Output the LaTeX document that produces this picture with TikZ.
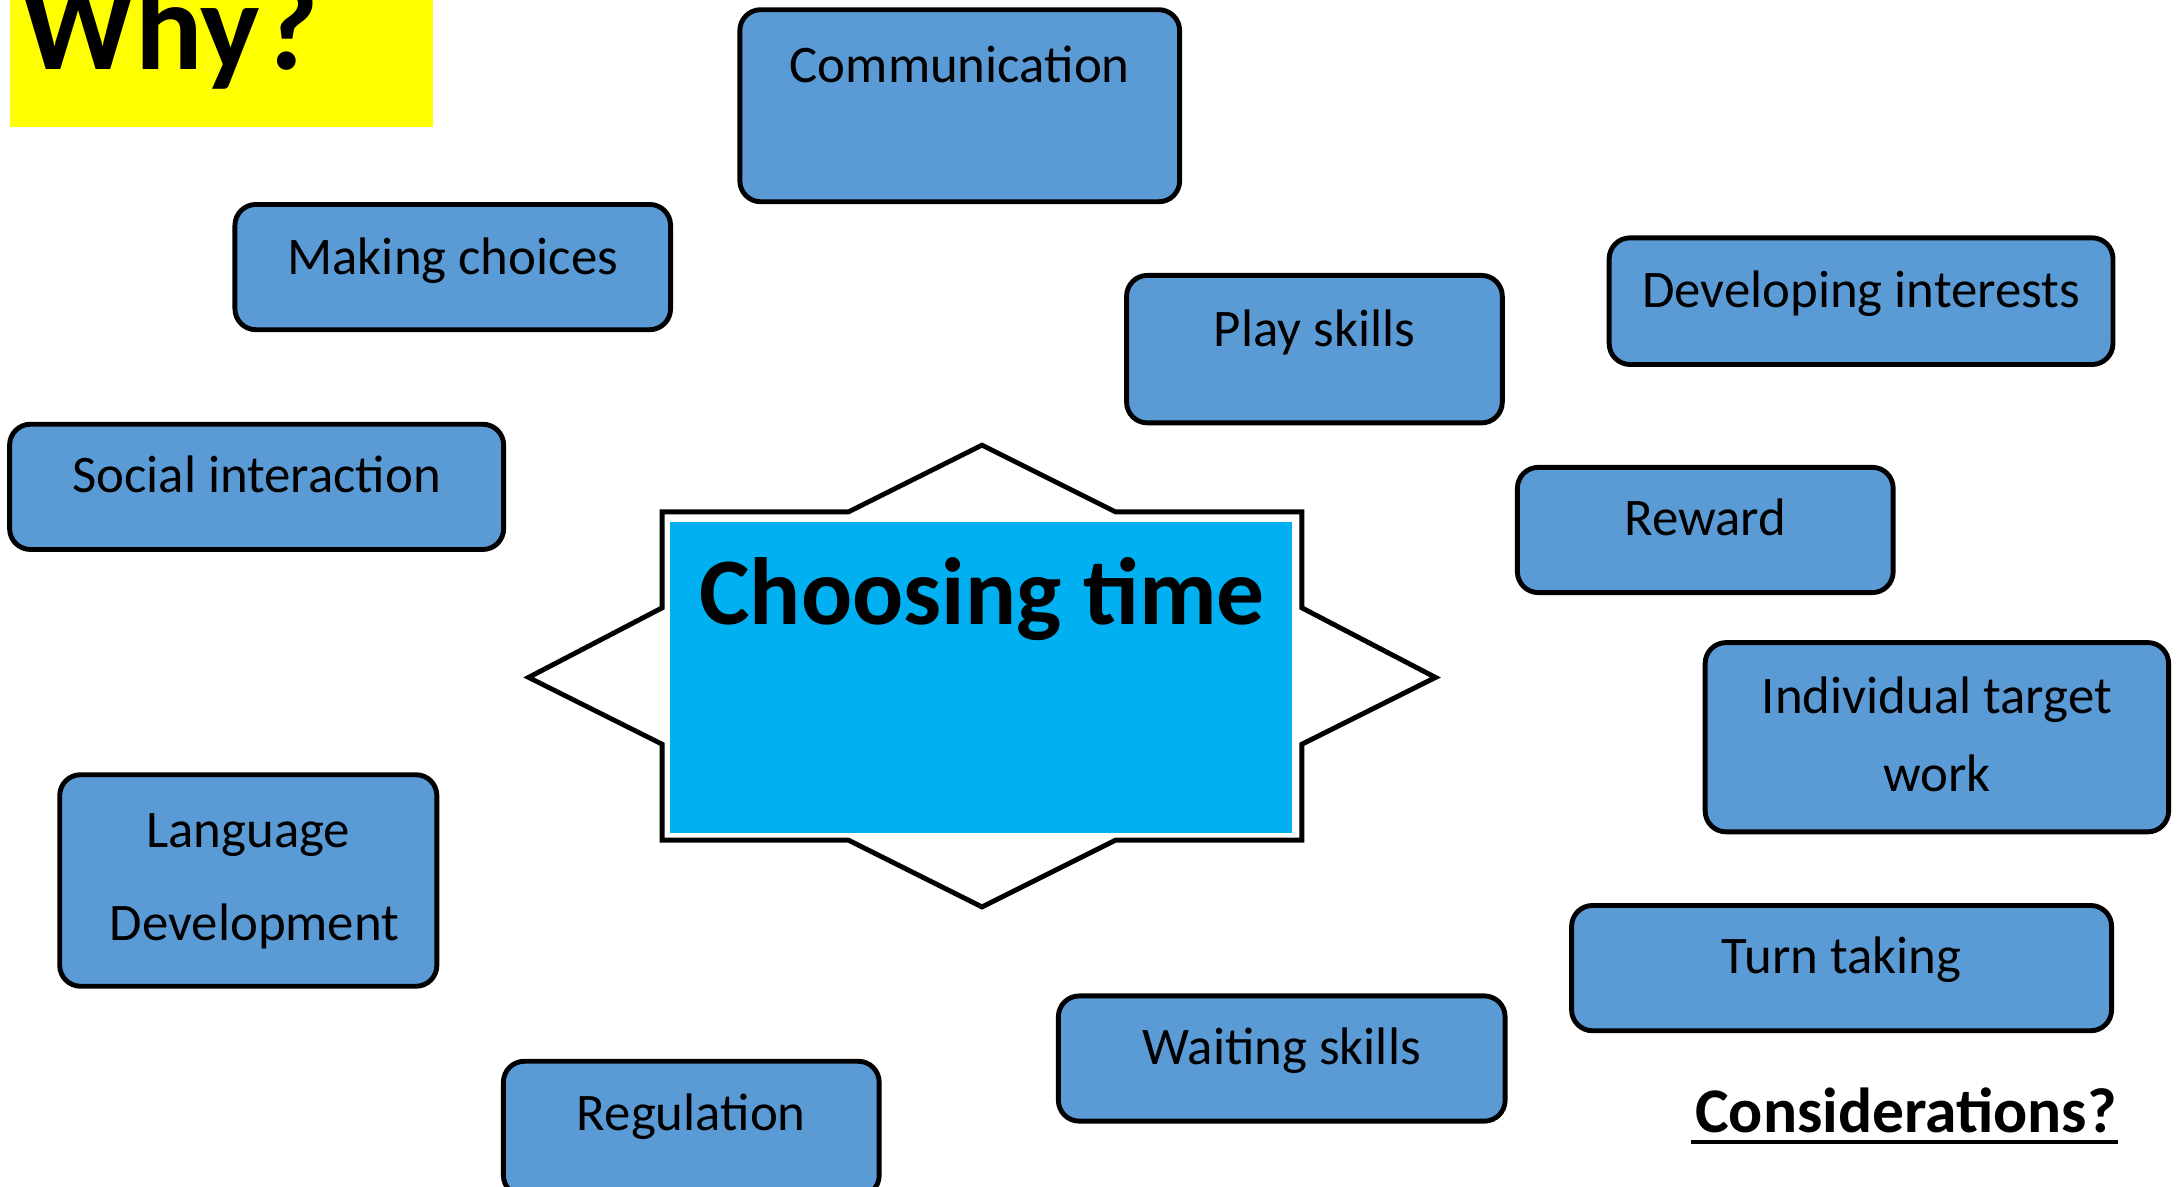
\documentclass[tikz,border=0pt]{standalone}
\usepackage{fontspec}
\setmainfont{Carlito}
\definecolor{boxblue}{HTML}{5B9BD5}
\definecolor{cyanfill}{HTML}{00B0F0}
\definecolor{hiyellow}{HTML}{FFFF00}
\begin{document}
\begin{tikzpicture}[x=0.01cm,y=-0.01cm,
  box/.style={draw=black,line width=1pt,fill=boxblue,rounded corners=0.15cm,inner sep=0pt},
  txt/.style={anchor=base,inner sep=0pt,font=\fontsize{10.8}{13}\selectfont}]
\useasboundingbox (0,0) rectangle (1568,853);
\clip (0,0) rectangle (1568,853);
% title
\node[fill=hiyellow,minimum width=3.04cm,minimum height=0.91cm,inner sep=0pt] (whybg) at (159,45.5) {};
\node[anchor=base west,inner sep=0pt,font=\fontsize{25.7}{30}\selectfont\bfseries] (why) at (15,50) {Why?};
% star
\draw[line width=1pt,fill=white] (706,320) -- (802,368) -- (936,368) -- (936,437) -- (1032,487) -- (936,535) -- (936,604) -- (802,604) -- (706,652) -- (610,604) -- (476,604) -- (476,535) -- (380,487) -- (476,437) -- (476,368) -- (610,368) -- cycle;
\node[fill=cyanfill,minimum width=4.47cm,minimum height=2.24cm,inner sep=0pt] (core) at (705.5,487) {};
\node[anchor=base,inner sep=0pt,font=\fontsize{19.5}{23}\selectfont\bfseries] (choosing) at (706,449) {Choosing time};
% boxes
\node[box,minimum width=3.16cm,minimum height=1.38cm] (comm) at (690,76) {};
\node[txt] (commt) at (690,59) {Communication};
\node[box,minimum width=3.13cm,minimum height=0.90cm] (choice) at (325.5,192) {};
\node[txt] (choicet) at (325.5,197) {Making choices};
\node[box,minimum width=2.70cm,minimum height=1.06cm] (play) at (945,251) {};
\node[txt] (playt) at (945,249) {Play skills};
\node[box,minimum width=3.62cm,minimum height=0.91cm] (interest) at (1338,216.5) {};
\node[txt] (interestt) at (1338,221) {Developing interests};
\node[box,minimum width=3.55cm,minimum height=0.90cm] (social) at (184.5,350) {};
\node[txt] (socialt) at (184.5,354) {Social interaction};
\node[box,minimum width=2.70cm,minimum height=0.90cm] (reward) at (1226,381) {};
\node[txt] (rewardt) at (1226,385) {Reward};
\node[box,minimum width=3.33cm,minimum height=1.36cm] (target) at (1392.5,530) {};
\node[txt] (targett1) at (1392.5,513) {Individual target};
\node[txt] (targett2) at (1392.5,569) {work};
\node[box,minimum width=2.71cm,minimum height=1.52cm] (lang) at (178.5,633) {};
\node[txt] (langt1) at (178.5,609) {Language};
\node[txt] (langt2) at (183,676) {Development};
\node[box,minimum width=3.88cm,minimum height=0.90cm] (turn) at (1324,696) {};
\node[txt] (turnt) at (1324,700) {Turn taking};
\node[box,minimum width=3.21cm,minimum height=0.90cm] (wait) at (921.5,761) {};
\node[txt] (waitt) at (921.5,765) {Waiting skills};
\node[box,minimum width=2.70cm,minimum height=0.97cm] (reg) at (497,811.5) {};
\node[txt] (regt) at (497,813) {Regulation};
% considerations
\node[anchor=base west,inner sep=0pt,font=\fontsize{13}{16}\selectfont\bfseries] (cons) at (1218,814) {Considerations?};
\draw[line width=1pt] (cons.base west) ++(-2,7) coordinate (ul1) -- (cons.base east |- ul1) coordinate (ul2);
\end{tikzpicture}
\end{document}
